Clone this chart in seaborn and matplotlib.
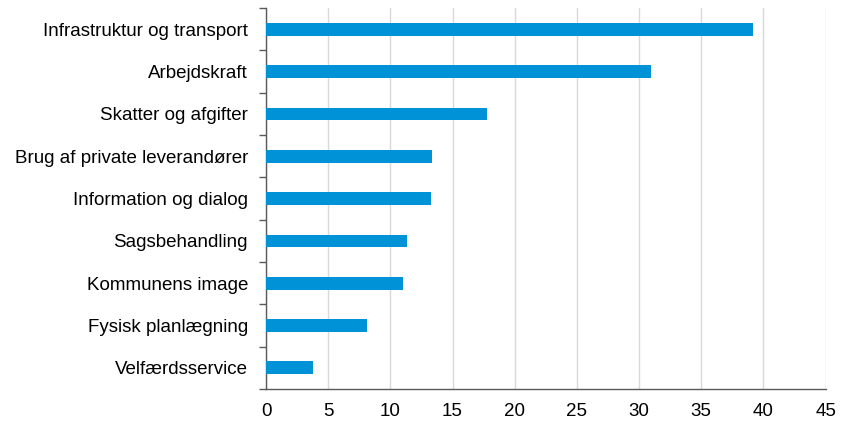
import matplotlib
matplotlib.use("Agg")
import matplotlib.pyplot as plt
import seaborn as sns
import pandas as pd
import numpy as np

categories = ["Infrastruktur og transport", "Arbejdskraft", "Skatter og afgifter",
              "Brug af private leverandører", "Information og dialog", "Sagsbehandling",
              "Kommunens image", "Fysisk planlægning", "Velfærdsservice"]
values = [39.2, 31.0, 17.8, 13.35, 13.3, 11.3, 11.05, 8.1, 3.8]
xticks = [0, 5, 10, 15, 20, 25, 30, 35, 40, 45]

sns.set_theme(style="white")
plt.rcParams['font.family'] = ['Liberation Sans', 'DejaVu Sans']

df = pd.DataFrame({"cat": categories, "val": values})

fig = plt.figure(figsize=(8.45, 4.26), dpi=100)
ax = fig.add_axes([0.3148, 0.0869, 0.977 - 0.3148, 0.981 - 0.0869])
sns.barplot(data=df, y="cat", x="val", orient="h", width=0.3, color="#0092d6",
            saturation=1, linewidth=0, ax=ax, zorder=3)
ax.set_xlim(0, 45)
ax.set_ylim(len(categories) - 0.5, -0.5)
ax.set_xticks(xticks)
ax.set_xlabel("")
ax.set_ylabel("")
ax.grid(axis="x", color="#d9d9d9", linewidth=1, zorder=0)
ax.grid(axis="y", visible=False)
for s in ["top", "right"]:
    ax.spines[s].set_visible(False)
for s in ["left", "bottom"]:
    ax.spines[s].set_color("#595959")
    ax.spines[s].set_linewidth(1)
ax.set_yticks(np.arange(-0.5, len(categories), 1), minor=True)
ax.set_xticks([0], minor=True)
ax.tick_params(axis="y", which="major", length=0, pad=13, labelsize=13.5, colors="black")
ax.tick_params(axis="y", which="minor", length=5, width=1, color="#595959", left=True)
ax.tick_params(axis="x", which="major", length=0, pad=10, labelsize=13.5, colors="black")
ax.tick_params(axis="x", which="minor", length=5, width=1, color="#595959", bottom=True)
fig.savefig("out.png", dpi=100)
